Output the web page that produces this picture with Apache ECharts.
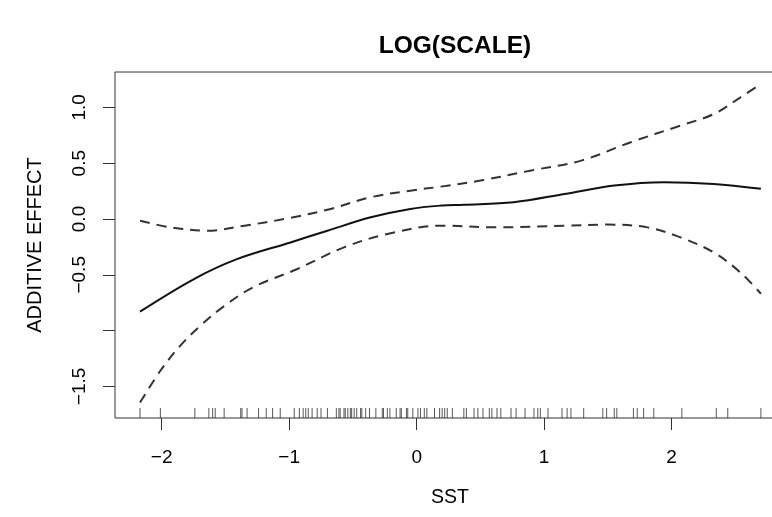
<!DOCTYPE html>
<html>
<head>
<meta charset="utf-8">
<script src="https://cdn.jsdelivr.net/npm/echarts@6/dist/echarts.min.js"></script>
<style>
  html, body { margin: 0; padding: 0; background: #fff; }
  #chart { width: 772px; height: 517px; }
</style>
</head>
<body>
<div id="chart"></div>
<script>
// Smooth term for SST with its confidence band
const fitX = [-2.17, -1.75, -1.41, -0.99, -0.70, -0.36, -0.05, 0.19, 0.37, 0.76, 1.16, 1.55, 1.94, 2.33, 2.70];
const fitY = [-0.83, -0.54, -0.36, -0.21, -0.105, 0.015, 0.09, 0.12, 0.128, 0.15, 0.224, 0.30, 0.33, 0.314, 0.27];

const upperX = [-2.17, -1.93, -1.64, -1.35, -1.01, -0.70, -0.36, -0.05, 0.19, 0.50, 0.89, 1.29, 1.68, 2.07, 2.33, 2.54, 2.70];
const upperY = [-0.015, -0.075, -0.105, -0.06, 0.006, 0.083, 0.195, 0.254, 0.29, 0.344, 0.433, 0.523, 0.688, 0.837, 0.94, 1.09, 1.21];

const lowerX = [-2.17, -2.01, -1.85, -1.69, -1.51, -1.28, -0.94, -0.57, -0.23, 0.19, 0.63, 1.16, 1.50, 1.81, 2.07, 2.33, 2.54, 2.70];
const lowerY = [-1.645, -1.36, -1.13, -0.95, -0.78, -0.61, -0.45, -0.254, -0.135, -0.06, -0.075, -0.06, -0.05, -0.075, -0.165, -0.30, -0.48, -0.67];

// Observed SST values drawn as a rug along the bottom
const sstRug = [
  -2.17, -2.01, -1.74, -1.63, -1.60, -1.58, -1.51, -1.38, -1.37, -1.33, -1.24, -1.18, -1.13, -1.07,
  -0.96, -0.92, -0.89, -0.87, -0.85, -0.82, -0.78, -0.75, -0.70, -0.63, -0.61, -0.60, -0.57, -0.56,
  -0.54, -0.52, -0.51, -0.49, -0.47, -0.44, -0.43, -0.40, -0.37, -0.32, -0.27, -0.26, -0.23, -0.21,
  -0.16, -0.13, -0.12, -0.08, -0.07, -0.03, 0.01, 0.03, 0.06, 0.08, 0.14, 0.18, 0.20, 0.22,
  0.24, 0.28, 0.37, 0.39, 0.45, 0.48, 0.52, 0.57, 0.59, 0.63, 0.66, 0.74, 0.78, 0.85, 0.92, 0.95,
  0.97, 1.03, 1.14, 1.18, 1.21, 1.31, 1.46, 1.49, 1.55, 1.57, 1.70, 1.73, 1.78, 1.86, 2.08, 2.35,
  2.44, 2.70
];

// Axis ticks and labels
const xTicks = [-2, -1, 0, 1, 2];
const yTicks = [-1.5, -1.0, -0.5, 0.0, 0.5, 1.0];
const yLabels = [-1.5, -0.5, 0.0, 0.5, 1.0];

const X_MIN = -2.366, X_MAX = 2.889;
const Y_MIN = -1.783, Y_MAX = 1.317;

const pairs = (xs, ys) => xs.map((x, i) => [x, ys[i]]);
const minus = s => s.replace('-', '\u2212');
const FONT = '"Liberation Sans", Arial, Helvetica, sans-serif';

const chart = echarts.init(document.getElementById('chart'), null, { renderer: 'canvas' });

chart.setOption({
  animation: false,
  backgroundColor: '#ffffff',
  title: {
    text: 'LOG(SCALE)',
    left: 450,
    top: 29,
    textAlign: 'center',
    textStyle: { fontFamily: FONT, fontWeight: 'bold', fontSize: 24.5, color: '#000' }
  },
  grid: {
    left: 115, top: 72, width: 670, height: 346,
    outerBoundsMode: 'none',
    containLabel: false,
    show: true, borderColor: '#333', borderWidth: 1, backgroundColor: 'transparent'
  },
  xAxis: {
    type: 'value',
    min: X_MIN, max: X_MAX,
    name: 'SST',
    nameLocation: 'middle',
    nameGap: 70,
    nameTextStyle: { fontFamily: FONT, fontSize: 19.5, color: '#000' },
    axisLine: { show: false, onZero: false },
    splitLine: { show: false },
    axisTick: { show: true, length: 12, customValues: xTicks, lineStyle: { color: '#333', width: 1 } },
    axisLabel: {
      customValues: xTicks, margin: 30,
      fontFamily: FONT, fontSize: 19, color: '#000',
      formatter: v => minus(String(v))
    }
  },
  yAxis: {
    type: 'value',
    min: Y_MIN, max: Y_MAX,
    name: 'ADDITIVE EFFECT',
    nameLocation: 'middle',
    nameRotate: 90,
    nameGap: 70,
    nameTextStyle: { fontFamily: FONT, fontSize: 20, color: '#000' },
    axisLine: { show: false, onZero: false },
    splitLine: { show: false },
    axisTick: { show: true, length: 12, customValues: yTicks, lineStyle: { color: '#333', width: 1 } },
    axisLabel: {
      customValues: yLabels, margin: 26, rotate: 90,
      fontFamily: FONT, fontSize: 19, color: '#000',
      formatter: v => minus(Number(v).toFixed(1))
    }
  },
  series: [
    {
      name: 'fit', type: 'line', data: pairs(fitX, fitY),
      smooth: 0.35, symbol: 'none',
      lineStyle: { color: '#111', width: 2 }
    },
    {
      name: 'upper', type: 'line', data: pairs(upperX, upperY),
      smooth: 0.35, symbol: 'none',
      lineStyle: { color: '#333', width: 2, type: [10, 7] }
    },
    {
      name: 'lower', type: 'line', data: pairs(lowerX, lowerY),
      smooth: 0.35, symbol: 'none',
      lineStyle: { color: '#333', width: 2, type: [10, 7] }
    },
    {
      name: 'rug', type: 'scatter',
      data: sstRug.map(x => [x, Y_MIN]),
      symbol: 'rect', symbolSize: [1, 10], symbolOffset: [0, -5],
      itemStyle: { color: '#222', opacity: 0.75 },
      silent: true
    }
  ]
});
</script>
</body>
</html>
